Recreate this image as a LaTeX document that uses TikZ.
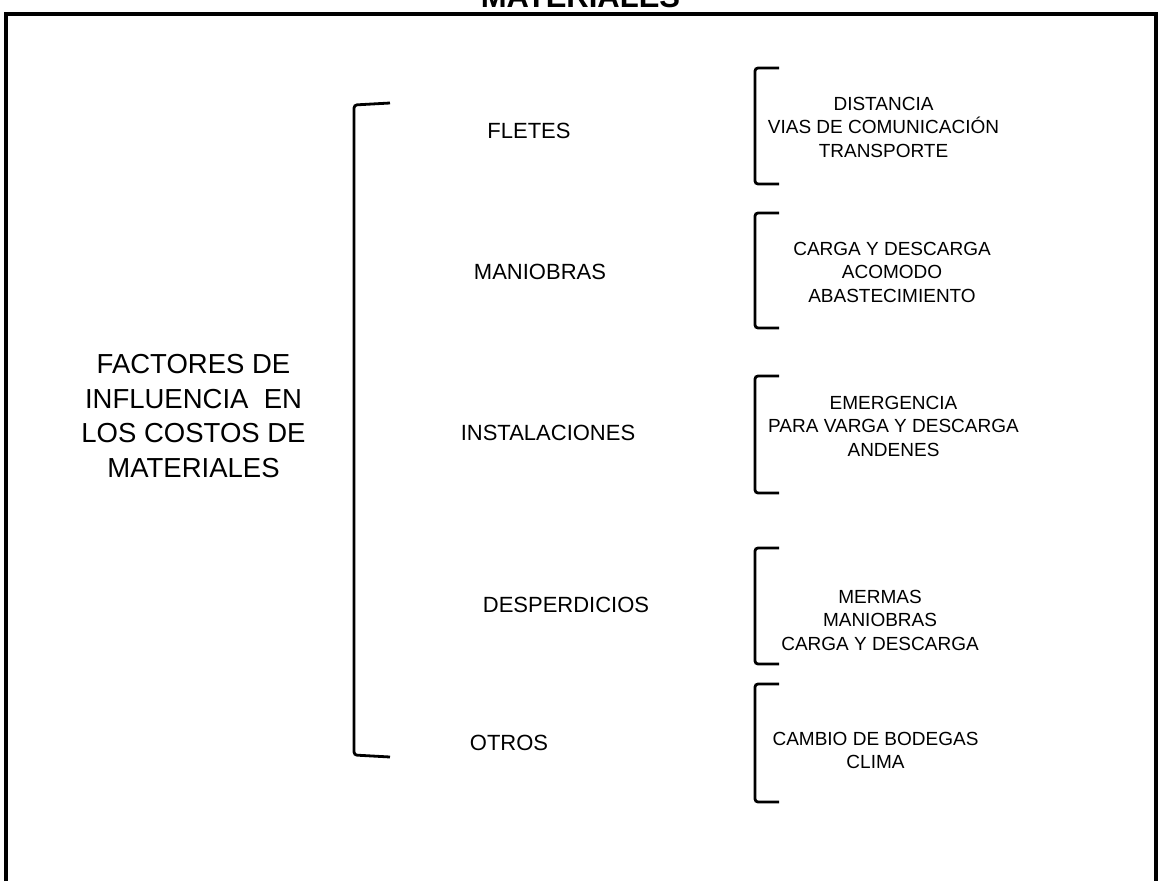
\documentclass[tikz,border=0pt]{standalone}
\usepackage{fontspec}
\setmainfont{Liberation Sans}

\begin{document}
\begin{tikzpicture}[
  x=1pt,
  y=-1pt,
  frame/.style={line width=3.5pt,line join=miter},
  brace/.style={line width=2.8pt,rounded corners=3pt},
  bigtext/.style={font=\fontsize{27.5}{34.5}\selectfont,align=center,inner sep=0pt},
  factor/.style={font=\fontsize{22}{26}\selectfont,inner sep=0pt},
  detail/.style={font=\fontsize{19}{23.5}\selectfont,align=center,inner sep=0pt}
]
\useasboundingbox (0,0) rectangle (1161,881);

% Frame and cut-off title
\draw[frame] (6,881) -- (6,14) -- (1156,14) -- (1156,881);
\node[font=\bfseries\fontsize{31}{36}\selectfont,anchor=base] (title)
  at (580.5,7) {MATERIALES};

% Main heading and its bracket
\node[bigtext] (factores) at (193.5,416)
  {FACTORES DE\\INFLUENCIA \ EN\\LOS COSTOS DE\\MATERIALES};
\draw[brace] (390,103) -- (354,105) -- (354,755) -- (390,757);

% Factors
\node[factor] (fletes) at (529,131) {FLETES};
\node[factor] (maniobras) at (540,272) {MANIOBRAS};
\node[factor] (instalaciones) at (548,433) {INSTALACIONES};
\node[factor] (desperdicios) at (566,605) {DESPERDICIOS};
\node[factor] (otros) at (509,743) {OTROS};

% Detail brackets
\foreach \ytop/\ybot in {68/184,213/328,376/493,548/664,684/802}{
  \draw[brace] (779,\ytop) -- (755,\ytop) -- (755,\ybot) -- (779,\ybot);
}

% Details of each factor
\node[detail] (fletesdet) at (883.5,127)
  {DISTANCIA\\VIAS DE COMUNICACIÓN\\TRANSPORTE};
\node[detail] (maniobrasdet) at (892,272)
  {CARGA Y DESCARGA\\ACOMODO\\ABASTECIMIENTO};
\node[detail] (instalacionesdet) at (893.5,426)
  {EMERGENCIA\\PARA VARGA Y DESCARGA\\ANDENES};
\node[detail] (desperdiciosdet) at (880,620)
  {MERMAS\\MANIOBRAS\\CARGA Y DESCARGA};
\node[detail] (otrosdet) at (875.5,750.5)
  {CAMBIO DE BODEGAS\\CLIMA};

\end{tikzpicture}
\end{document}
